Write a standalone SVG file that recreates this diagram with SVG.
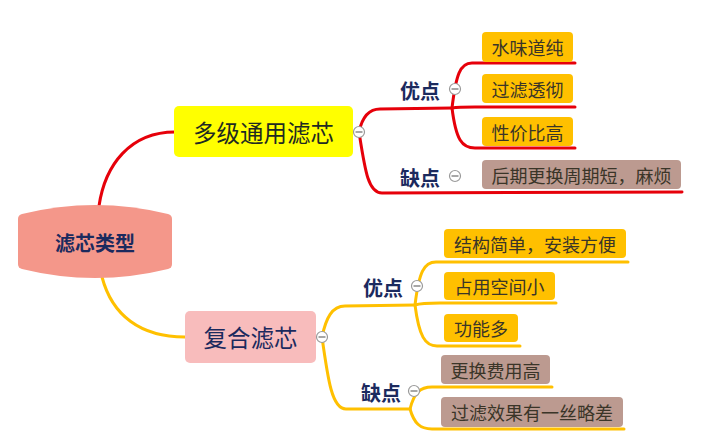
<svg xmlns="http://www.w3.org/2000/svg" width="705" height="447" viewBox="0 0 705 447">
<style>
  .red { fill: none; stroke: #E6000A; stroke-width: 3; stroke-linecap: round; }
  .gold { fill: none; stroke: #FFC000; stroke-width: 3; stroke-linecap: round; }
  .lbl { font-family: "Noto Sans CJK SC", "Noto Sans", sans-serif; font-weight: bold; font-size: 20px; fill: #1B2A5E; }
  .mid { font-family: "Noto Sans CJK SC", "Noto Sans", sans-serif; font-size: 23.5px; }
  .leaf { font-family: "Noto Sans CJK SC", "Noto Sans", sans-serif; font-size: 18px; fill: #3A3528; }
  .pro { fill: #FFC000; }
  .con { fill: #BC9A90; }
  .tog circle { fill: #fff; stroke: #9A9A9A; stroke-width: 1.2; }
  .tog line { stroke: #8A8A8A; stroke-width: 1.5; }
</style>
<defs>
  <g id="toggle" class="tog"><circle cx="0" cy="0" r="5.5"/><line x1="-3.5" y1="0" x2="3.5" y2="0"/></g>
</defs>
<rect width="705" height="447" fill="#fff"/>

<g id="connectors">
  <path class="red" d="M99,206 C105,165 130,132 175,132"/>
  <path class="red" d="M359,132 C362,118 368,109 380,109 L452,108"/>
  <path class="red" d="M452,108 C456,75 460,63 472,63 L575,63"/>
  <path class="red" d="M452,108 C458,107 465,107 475,107 L575,107"/>
  <path class="red" d="M452,108 C456,140 462,148 475,148 L575,148"/>
  <path class="red" d="M359,132 C365,170 368,193 382,193 L682,192"/>
  <path class="gold" d="M102,277 C112,315 140,337 185,337"/>
  <path class="gold" d="M322,337 C326,318 332,306 345,306 L415,305"/>
  <path class="gold" d="M415,305 C419,272 424,262 436,262 L628,262"/>
  <path class="gold" d="M415,305 C421,303 428,303 440,303 L556,303"/>
  <path class="gold" d="M415,305 C419,336 425,346 437,346 L520,346"/>
  <path class="gold" d="M322,337 C328,380 332,409 346,409 L410,409"/>
  <path class="gold" d="M410,409 C414,393 420,387 432,387 L552,387"/>
  <path class="gold" d="M410,409 C414,423 420,429 432,429 L624,429"/>
</g>

<g id="root">
  <path d="M18,219 Q18,215 22,214 Q95,196 168,214 Q172,215 172,219 L172,264 Q172,268 168,269 Q95,287 22,269 Q18,268 18,264 Z" fill="#F4978A"/>
  <text class="lbl" x="95" y="242" text-anchor="middle" dominant-baseline="central">滤芯类型</text>
</g>

<g id="multi">
  <rect x="174" y="106" width="179" height="51" rx="5" fill="#FFFF00"/>
  <text class="mid" x="263.5" y="131.5" text-anchor="middle" dominant-baseline="central" fill="#1E2A22">多级通用滤芯</text>
  <use href="#toggle" x="359" y="132"/>
</g>

<g id="multi-pro">
  <text class="lbl" x="420" y="90" text-anchor="middle" dominant-baseline="central">优点</text>
  <use href="#toggle" x="455" y="89"/>
</g>
<g id="leaf-1">
  <rect class="pro" x="482" y="32" width="91" height="30" rx="4"/>
  <text class="leaf" x="527.5" y="47" text-anchor="middle" dominant-baseline="central">水味道纯</text>
</g>
<g id="leaf-2">
  <rect class="pro" x="482" y="74" width="91" height="29" rx="4"/>
  <text class="leaf" x="527.5" y="88.5" text-anchor="middle" dominant-baseline="central">过滤透彻</text>
</g>
<g id="leaf-3">
  <rect class="pro" x="482" y="117" width="91" height="29" rx="4"/>
  <text class="leaf" x="527.5" y="131.5" text-anchor="middle" dominant-baseline="central">性价比高</text>
</g>
<g id="multi-con">
  <text class="lbl" x="420" y="177" text-anchor="middle" dominant-baseline="central">缺点</text>
  <use href="#toggle" x="455" y="176"/>
</g>
<g id="leaf-4">
  <rect class="con" x="482" y="160" width="199" height="29" rx="4"/>
  <text class="leaf" x="581.5" y="174.5" text-anchor="middle" dominant-baseline="central">后期更换周期短，麻烦</text>
</g>

<g id="composite">
  <rect x="185" y="311" width="131" height="52" rx="5" fill="#F8BCBC"/>
  <text class="mid" x="250.5" y="337" text-anchor="middle" dominant-baseline="central" fill="#1B2A5E">复合滤芯</text>
  <use href="#toggle" x="322" y="337"/>
</g>

<g id="comp-pro">
  <text class="lbl" x="383" y="287" text-anchor="middle" dominant-baseline="central">优点</text>
  <use href="#toggle" x="417" y="286"/>
</g>
<g id="leaf-5">
  <rect class="pro" x="444" y="229" width="182" height="29" rx="4"/>
  <text class="leaf" x="535" y="243.5" text-anchor="middle" dominant-baseline="central">结构简单，安装方便</text>
</g>
<g id="leaf-6">
  <rect class="pro" x="444" y="272" width="111" height="28" rx="4"/>
  <text class="leaf" x="499.5" y="286" text-anchor="middle" dominant-baseline="central">占用空间小</text>
</g>
<g id="leaf-7">
  <rect class="pro" x="444" y="314" width="74" height="28" rx="4"/>
  <text class="leaf" x="481" y="328" text-anchor="middle" dominant-baseline="central">功能多</text>
</g>
<g id="comp-con">
  <text class="lbl" x="381" y="392" text-anchor="middle" dominant-baseline="central">缺点</text>
  <use href="#toggle" x="414" y="391"/>
</g>
<g id="leaf-8">
  <rect class="con" x="441" y="355" width="109" height="29" rx="4"/>
  <text class="leaf" x="495.5" y="369.5" text-anchor="middle" dominant-baseline="central">更换费用高</text>
</g>
<g id="leaf-9">
  <rect class="con" x="441" y="397" width="182" height="30" rx="4"/>
  <text class="leaf" x="532" y="412" text-anchor="middle" dominant-baseline="central">过滤效果有一丝略差</text>
</g>
</svg>
